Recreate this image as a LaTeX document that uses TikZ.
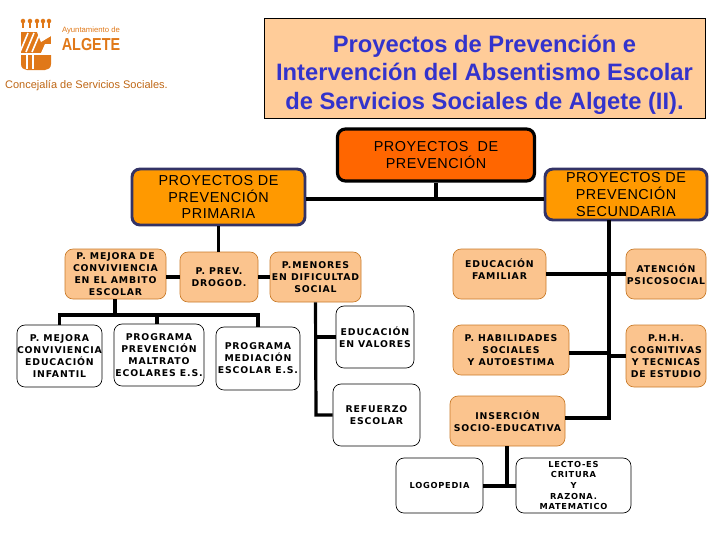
\documentclass[tikz,border=0pt]{standalone}
\usepackage{fontspec}
\setmainfont{Liberation Sans}
\newfontfamily\smallfont[LetterSpace=9]{DejaVu Sans}
\newfontfamily\headfont[LetterSpace=4]{Liberation Sans}
\usepackage{xcolor}
\definecolor{titlefill}{HTML}{FFCC99}
\definecolor{titleblue}{HTML}{3333CC}
\definecolor{topfill}{HTML}{FF6600}
\definecolor{midfill}{HTML}{FF9900}
\definecolor{midline}{HTML}{333366}
\definecolor{peachfill}{HTML}{FBC48E}
\definecolor{peachline}{HTML}{C87A28}
\definecolor{logocolor}{HTML}{E07818}
\tikzset{
  boxsize/.style 2 args={minimum width=#1*0.75pt, minimum height=#2*0.75pt},
  basebox/.style={rectangle, rounded corners=6pt, inner sep=0pt, align=center},
  smalltext/.style={font=\smallfont\bfseries\fontsize{7}{9}\selectfont},
  headtext/.style={font=\headfont\fontsize{10.8}{12.7}\selectfont, text=black},
  topbox/.style={basebox, headtext, draw=black, line width=2.4pt, fill=topfill},
  midbox/.style={basebox, headtext, draw=midline, line width=2.2pt, fill=midfill},
  peachbox/.style={basebox, smalltext, draw=peachline, line width=0.5pt, fill=peachfill},
  whitebox/.style={basebox, smalltext, draw=black, line width=0.5pt, fill=white},
  conn/.style={draw=black, line width=2.4pt},
  fatconn/.style={draw=black, line width=3pt}
}
\begin{document}
\begin{tikzpicture}[x=0.75pt,y=-0.75pt]
    \useasboundingbox (0,0) rectangle (720,540);

    % Logo
    \fill[logocolor] (21,32) rectangle (51,53);
    \fill[logocolor] (21,55) -- (51,55) -- (51,64) .. controls (51,68) and (48,70) .. (45,70) -- (27,70) .. controls (24,70) and (21,68) .. (21,64) -- cycle;
    \foreach \x in {23,30,37,43,49} {
      \fill[logocolor] (\x,21) circle (1.7pt);
      \fill[logocolor] (\x-1,23) rectangle (\x+1,28);
    }
    \foreach \x in {22,28,34} {
      \draw[white, line width=1.2pt] (\x-2,52) -- (\x+6,33);
    }
    \fill[white] (37,32) -- (51,32) -- (51,36) -- (41,42) -- cycle;
    \fill[white] (41,53) -- (45,44) -- (51,44) -- (51,53) -- cycle;
    \foreach \x in {27,33} \draw[white, line width=0.8pt] (\x,55) -- (\x,69);
    \node[font=\fontsize{5.8}{6}\selectfont, text=logocolor, inner sep=0pt] (ayto) at (91,30) {Ayuntamiento de};
    \node[font=\bfseries\fontsize{13}{14}\selectfont, text=logocolor, inner sep=0pt, xscale=0.83] (algete) at (91,44.5) {ALGETE};
    \node[font=\fontsize{8.25}{10}\selectfont, text=logocolor!85!black, inner sep=0pt] (conceja) at (86.5,86) {Concejalía de Servicios Sociales.};

    % Title
    \node[rectangle, draw=black, line width=0.6pt, fill=titlefill, boxsize={441}{100}] (title) at (484.5,68) {};
    \node[inner sep=0pt, align=center, font=\bfseries\fontsize{17.8}{21.4}\selectfont, text=titleblue] (titletext) at (484.5,74.5)
      {Proyectos de Prevención e\\Intervención del Absentismo Escolar\\de Servicios Sociales de Algete (II).};

    % Headers
    \node[topbox, boxsize={197}{52}] (top) at (436,155) {PROYECTOS\ \ DE\\PREVENCIÓN};
    \node[midbox, boxsize={173}{56}] (primary) at (218.5,197) {PROYECTOS DE\\PREVENCIÓN\\PRIMARIA};
    \node[midbox, boxsize={162}{51}] (secondary) at (626,194.5) {PROYECTOS DE\\PREVENCIÓN\\SECUNDARIA};

    % Primary
    \node[peachbox, boxsize={101}{50}] (mejora) at (115.5,274) {P. MEJORA DE\\CONVIVIENCIA\\EN EL AMBITO\\ESCOLAR};
    \node[peachbox, boxsize={78}{50}] (drogod) at (219,277) {P. PREV.\\DROGOD.};
    \node[peachbox, boxsize={91}{50}] (menores) at (315.5,277) {P.MENORES\\EN DIFICULTAD\\SOCIAL};
    \node[whitebox, boxsize={85}{62}] (infantil) at (59.5,356) {P. MEJORA\\CONVIVIENCIA\\EDUCACIÓN\\INFANTIL};
    \node[whitebox, boxsize={90}{62}] (maltrato) at (159,355) {PROGRAMA\\PREVENCIÓN\\MALTRATO\\ECOLARES E.S.};
    \node[whitebox, boxsize={84}{63}] (mediacion) at (258,358.5) {PROGRAMA\\MEDIACIÓN\\ESCOLAR E.S.};
    \node[whitebox, boxsize={78}{62}] (valores) at (375,337) {EDUCACIÓN\\EN VALORES};
    \node[whitebox, boxsize={87}{62}] (refuerzo) at (376.5,415) {REFUERZO\\ESCOLAR};

    % Secondary
    \node[peachbox, boxsize={93}{50}] (familiar) at (499.5,274) {EDUCACIÓN\\FAMILIAR\\[-2.2pt]~};
    \node[peachbox, boxsize={80}{50}] (atencion) at (666,274) {ATENCIÓN\\PSICOSOCIAL};
    \node[peachbox, boxsize={116}{50}] (habilidades) at (511,350) {P. HABILIDADES\\SOCIALES\\Y AUTOESTIMA};
    \node[peachbox, boxsize={80}{62}] (cognitivas) at (666,356) {P.H.H.\\COGNITIVAS\\Y TECNICAS\\DE ESTUDIO};
    \node[peachbox, boxsize={115}{50}] (insercion) at (507.5,421) {INSERCIÓN\\SOCIO-EDUCATIVA};
    \node[whitebox, boxsize={87}{55}, font=\smallfont\bfseries\fontsize{6.2}{7.9}\selectfont] (logopedia) at (439.5,485.5) {LOGOPEDIA};
    \node[whitebox, boxsize={115}{55}, font=\smallfont\bfseries\fontsize{6.2}{7.9}\selectfont] (lecto) at (573.5,485.5) {LECTO-ES\\CRITURA\\Y\\RAZONA.\\MATEMATICO};

    % Junctions
    \coordinate (jtop) at (436,199);
    \coordinate (jmejora) at (115,315);
    \coordinate (jlogo) at (507,486);
    \coordinate (jmenoresa) at (316,337);
    \coordinate (jmenoresb) at (316,415);
    \coordinate (jsecond) at (609,220);
    \coordinate (jsecondb) at (609,418);

    % Connectors
    \draw[conn] (top.south) -- (jtop);
    \draw[conn] (primary.east |- jtop) -- (secondary.west |- jtop);
    \draw[conn] (primary.south) -- (drogod.north -| primary.south);
    \draw[conn] (mejora.east |- drogod) -- (drogod.west);
    \draw[conn] (drogod.east) -- (menores.west);
    \draw[fatconn] (mejora.south -| jmejora) -- (jmejora);
    \draw[conn] (infantil.north) -- (infantil.north |- jmejora) -- (mediacion.north |- jmejora) -- (mediacion.north);
    \draw[conn] (maltrato.north -| 157,0) -- (157,315);
    \draw[conn] (menores.south) -- (jmenoresb) -- (refuerzo.west);
    \draw[conn] (jmenoresa) -- (valores.west);
    \draw[fatconn] (jsecond) -- (jsecondb) -- (insercion.east |- jsecondb);
    \draw[conn] (familiar.east) -- (atencion.west);
    \draw[conn] (habilidades.east |- 0,353) -- (609,353);
    \draw[conn] (609,356) -- (cognitivas.west);
    \draw[conn] (insercion.south -| jlogo) -- (jlogo);
    \draw[conn] (logopedia.east |- jlogo) -- (lecto.west |- jlogo);
\end{tikzpicture}
\end{document}
